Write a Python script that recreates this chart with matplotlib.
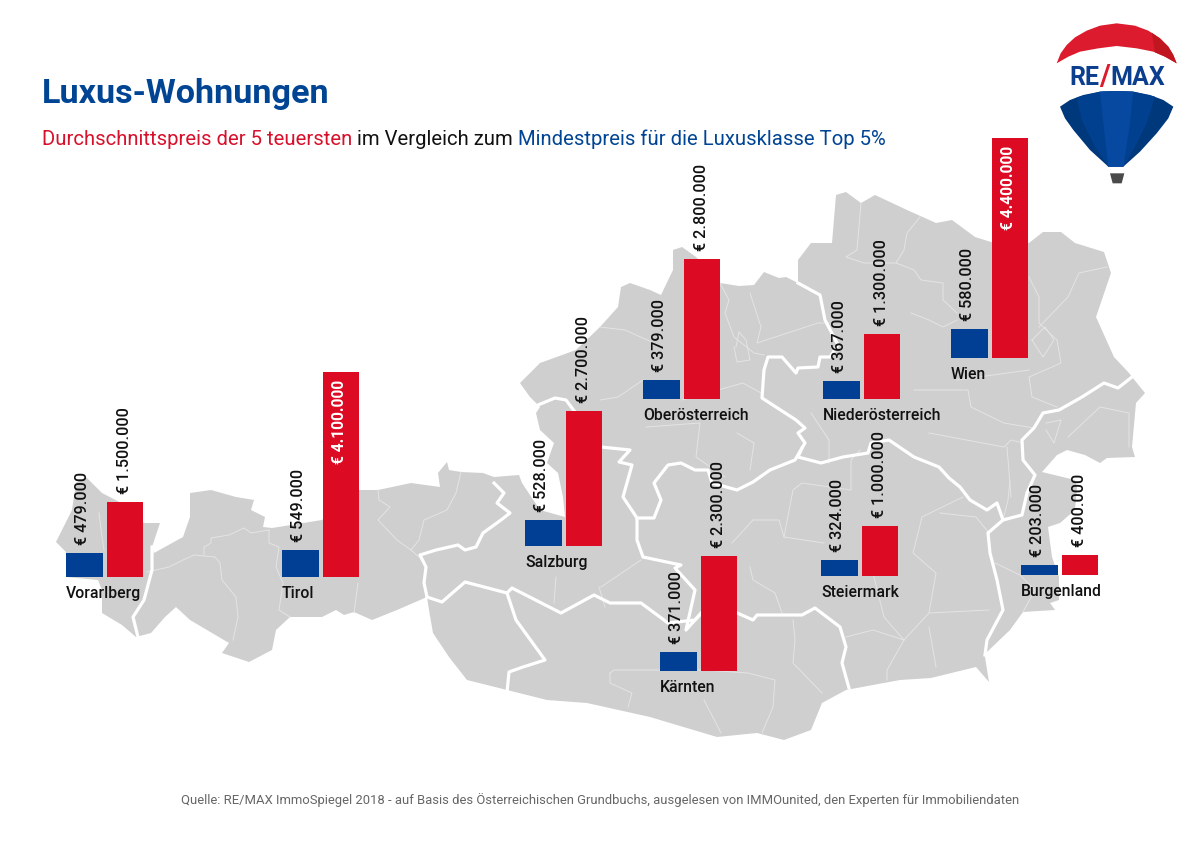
import matplotlib
matplotlib.use("Agg")
import matplotlib.pyplot as plt
from matplotlib.patches import Polygon

# ---------- data ----------
regions = ["Vorarlberg", "Tirol", "Salzburg", "Oberösterreich", "Niederösterreich",
           "Wien", "Steiermark", "Kärnten", "Burgenland"]
min_price = [479000, 549000, 528000, 379000, 367000, 580000, 324000, 371000, 203000]
avg_price = [1500000, 4100000, 2700000, 2800000, 1300000, 4400000, 1000000, 2300000, 400000]
group_x = [66, 282, 525, 643, 823, 951, 821, 660, 1021]
group_base = [577, 577, 546, 399, 399, 358, 576, 671, 575]
inside_label = ["Tirol", "Wien"]

EUR_PER_PX = 20000
BAR_W = 36.5
BAR_GAP = 40.5
RED = "#DC0A23"
BLUE = "#003F93"
TITLE_BLUE = "#004494"
GREY = "#CFCFCF"

def fmt(v):
    return "€ " + f"{v:,}".replace(",", ".")

# ---------- map geometry (background artwork, in image pixels) ----------
outline = [(56,542),(72,510),(76,483),(86,477),(102,493),(125,505),(144,523),(160,523),(152,547),
 (154,553),(183,537),(190,517),(190,493),(211,490),(236,497),(254,500),(251,510),(265,517),(263,527),
 (272,528),(322,520),(358,490),(378,490),(411,483),(440,487),(438,473),(447,462),(449,470),(461,472),
 (483,473),(494,477),(519,475),(522,483),(540,510),(565,517),(563,497),(558,473),(547,463),(554,443),
 (540,430),(536,413),(540,407),(530,397),(520,383),(540,363),(576,350),(600,327),(618,307),(621,287),
 (630,283),(650,290),(661,295),(673,270),(673,250),(682,247),(696,257),(720,283),(739,286),(754,285),
 (764,272),(779,278),(786,277),(798,283),(798,260),(811,243),(832,243),(836,195),(846,192),(861,203),
 (875,195),(907,210),(936,223),(952,220),(975,237),(991,242),(1029,243),(1043,232),(1061,232),(1075,243),
 (1104,252),(1111,273),(1096,317),(1114,357),(1129,373),(1132,377),(1145,393),(1136,403),(1132,447),
 (1135,457),(1107,458),(1100,463),(1085,455),(1067,450),(1057,455),(1042,472),(1075,480),(1077,487),
 (1075,510),(1060,523),(1048,527),(1052,557),(1059,577),(1059,600),(1050,603),(1055,610),(1023,612),
 (1010,630),(987,652),(985,657),(989,682),(976,667),(931,678),(900,680),(846,690),
 (822,703),(811,730),(784,740),(757,733),(717,737),(650,717),(587,703),(547,700),(507,690),(467,680),
 (449,657),(433,633),(429,610),(427,597),(397,610),(372,620),(354,612),(344,615),(336,610),(322,617),
 (290,617),(276,630),(272,650),(249,662),(222,653),(229,643),(190,620),(176,607),(165,617),(151,633),
 (136,637),(122,625),(102,613),(102,590),(98,580),(66,577),(66,552)]

state_borders = [
 [(152,547),(152,570),(144,600),(133,617),(138,637)],
 [(494,483),(504,493),(497,503),(510,513),(501,520),(483,533),(476,547),(465,550),(458,545),(436,550),
  (420,555),(426,567),(424,583),(427,597)],
 [(427,597),(442,602),(465,582),(507,593),(512,588),(561,613),(594,595),(610,603),(641,603),(668,623),
  (695,620),(704,610),(735,612),(753,620),(757,615),(802,615),(815,608),(840,627),(846,647),(842,663),(849,688)],
 [(507,593),(516,620),(545,660),(523,667),(509,672),(507,692)],
 [(538,405),(555,398),(566,400),(601,447),(630,450),(619,462),(632,465),(623,497),(637,518),(637,540),
  (643,557),(681,565),(675,568),(695,590),(686,630),(704,610)],
 [(637,518),(654,518),(661,500),(654,483),(668,465),(681,463),(695,470),(708,470),(712,483),(737,490),
  (753,482),(770,470),(795,460),(802,448),(805,443),(798,433),(805,428),(796,420),(762,398),(764,370),
  (768,357),(782,357),(796,373),(798,368),(818,367),(820,357),(830,357),(838,345),(825,320),(820,295),(798,283)],
 [(802,448),(798,457),(821,463),(843,457),(868,453),(871,443),(889,440),(914,457),(939,467),(949,478),
  (960,487),(970,500),(987,510),(997,503),(1003,520),(988,533),(990,553),(997,580),(1003,610),(987,640),(985,655)],
 [(1003,520),(1022,515),(1027,493),(1035,475),(1023,460),(1022,440),(1034,428),(1043,413),(1059,410),(1082,397),
  (1104,383),(1118,388),(1132,377)],
]

district_lines = [
 [(99,513),(102,537),(104,550)],
 [(147,572),(169,567),(183,560),(194,555),(215,557),(220,563),(222,580),(236,597),(238,617),(233,640)],
 [(204,555),(204,547),(211,543),(211,538),(229,535),(244,528),(251,533),(269,530)],
 [(269,530),(269,543),(279,547),(276,567),(283,583),(279,610),(290,617)],
 [(358,583),(354,613)],
 [(378,490),(379,500),(390,507),(378,520),(397,540),(411,550),(419,557)],
 [(461,472),(456,493),(447,510),(424,520),(419,540),(411,550)],
 [(556,577),(554,603)],
 [(601,587),(641,560)],
 [(599,587),(605,607)],
 [(753,520),(779,520),(784,537),(824,543)],
 [(732,543),(753,520)],
 [(750,567),(753,580),(775,593),(782,613)],
 [(784,537),(793,490),(802,483),(851,490),(851,460),(860,450)],
 [(873,573),(884,617),(904,640),(887,670),(887,680)],
 [(904,640),(929,613),(989,610)],
 [(929,613),(936,573),(913,553),(922,517),(963,497)],
 [(940,513),(976,517),(989,533)],
 [(846,637),(873,630),(904,640)],
 [(929,627),(936,667)],
 [(793,620),(795,640),(793,663),(822,693)],
 [(610,673),(614,670),(704,670),(748,673),(775,680),(773,707),(762,733)],
 [(610,673),(610,683),(632,693),(628,707)],
 [(704,700),(721,733)],
 [(600,327),(625,330),(654,343)],
 [(720,283),(729,300),(725,313),(734,337),(754,353),(764,355)],
 [(750,293),(761,327),(757,343),(818,323),(829,323)],
 [(736,347),(739,332),(746,340),(750,360),(737,362),(734,347)],
 [(600,400),(618,397),(643,380)],
 [(682,400),(743,383),(761,393)],
 [(646,427),(700,423),(696,457),(725,477)],
 [(737,433),(754,443),(750,470)],
 [(920,217),(907,233),(904,250),(896,263),(914,270),(921,280),(943,283),(943,300),(957,313)],
 [(861,203),(857,250),(846,257),(864,263),(896,263)],
 [(911,313),(929,320),(943,327),(957,320)],
 [(1029,277),(1039,297),(1039,323),(1057,340),(1061,363),(1029,377),(1032,397),(1057,407)],
 [(1107,267),(1079,273),(1068,297),(1039,327)],
 [(1032,340),(1045,327),(1054,340),(1043,357),(1032,340)],
 [(914,390),(968,390),(971,407),(1004,423),(1034,428)],
 [(929,433),(1004,447),(1011,440),(1023,443)],
 [(1007,447),(1011,497)],
 [(811,413),(829,440),(829,463)],
 [(957,380),(1029,370)],
 [(1046,423),(1061,420),(1054,443),(1046,430)],
 [(1068,437),(1100,407),(1129,413),(1129,447)],
 [(995,563),(1020,575),(1035,590),(1023,612)],
 [(1010,480),(1008,500),(1003,520)],
]

# ---------- figure ----------
plt.rcParams["font.family"] = ["Roboto", "DejaVu Sans"]
fig = plt.figure(figsize=(12, 8.5), dpi=100, facecolor="white")
ax = fig.add_axes([0, 0, 1, 1])
ax.set_xlim(0, 1200)
ax.set_ylim(850, 0)
ax.axis("off")

ax.add_patch(Polygon(outline, closed=True, fc=GREY, ec="none", zorder=1))
for line in district_lines:
    xs, ys = zip(*line)
    ax.plot(xs, ys, color="#E4E4E4", lw=0.7, zorder=2, solid_joinstyle="round")
for line in state_borders:
    xs, ys = zip(*line)
    ax.plot(xs, ys, color="white", lw=2.3, zorder=3, solid_joinstyle="round")

# ---------- bars ----------
for name, lo, hi, x0, base in zip(regions, min_price, avg_price, group_x, group_base):
    h_lo = lo / EUR_PER_PX
    h_hi = hi / EUR_PER_PX
    ax.bar(x0, h_lo, BAR_W, bottom=base - h_lo, align="edge", color=BLUE, zorder=4)
    ax.bar(x0 + BAR_GAP, h_hi, BAR_W, bottom=base - h_hi, align="edge", color=RED, zorder=4)
    ax.text(x0 + BAR_W / 2 - 2, base - h_lo - 8, fmt(lo), rotation=90, ha="center", va="bottom",
            fontsize=11.6, fontweight="medium", color="#111111", zorder=5)
    if name in inside_label:
        ax.text(x0 + BAR_GAP + BAR_W / 2 - 1, base - h_hi + 8, fmt(hi), rotation=90, ha="center", va="top",
                fontsize=11.2, fontweight="bold", color="white", zorder=5)
    else:
        ax.text(x0 + BAR_GAP + BAR_W / 2, base - h_hi - 8, fmt(hi), rotation=90, ha="center", va="bottom",
                fontsize=11.6, fontweight="medium", color="#111111", zorder=5)
    ax.text(x0, base + 21, name, ha="left", va="baseline", fontsize=11.3, fontweight="medium",
            color="#111111", zorder=5)

# ---------- titles ----------
ax.text(42, 103, "Luxus-Wohnungen", fontsize=24.6, fontweight="bold", color=TITLE_BLUE,
        ha="left", va="baseline", zorder=6)

x = 42.0
renderer = fig.canvas.get_renderer()
for piece, col in [("Durchschnittspreis der 5 teuersten", "#D7102B"),
                   (" im Vergleich zum ", "#111111"),
                   ("Mindestpreis für die Luxusklasse Top 5%", TITLE_BLUE)]:
    ax.text(x, 145, piece, fontsize=14.58, color=col, ha="left", va="baseline", zorder=6)
    tw, _, _ = renderer.get_text_width_height_descent(piece, ax.texts[-1].get_fontproperties(), False)
    x += tw

ax.text(600, 804, "Quelle: RE/MAX ImmoSpiegel 2018 - auf Basis des Österreichischen Grundbuchs, "
        "ausgelesen von IMMOunited, den Experten für Immobiliendaten",
        fontsize=9.33, color="#666666", ha="center", va="baseline", zorder=6)

# ---------- RE/MAX balloon artwork ----------
def lg(pts):
    return [(1040 + a / 3, 10 + b / 3) for a, b in pts]

red_top = [(50,160),(62,130),(80,105),(105,82),(140,62),(180,47),(230,40),(285,47),(325,62),(360,85),
           (385,110),(400,135),(410,160),(375,140),(340,125),(290,115),(230,108),(175,115),(120,125),(85,140)]
red_side = [(335,68),(360,85),(385,110),(400,135),(410,160),(375,140),(345,127)]
blue_body = [(60,290),(90,270),(130,255),(180,245),(230,243),(280,245),(330,255),(370,270),(400,290),
             (385,325),(350,370),(300,425),(250,470),(205,470),(150,420),(100,360),(75,325)]
blue_mid = [(110,262),(180,245),(230,243),(280,245),(345,260),(320,340),(280,420),(250,470),(205,470),(165,410),(125,330)]
blue_core = [(180,245),(230,243),(280,245),(270,340),(250,470),(205,470),(190,340)]
ax.add_patch(Polygon(lg(red_top), fc="#DC1C2E", ec="none", zorder=6))
ax.add_patch(Polygon(lg(red_side), fc="#C0161F", ec="none", zorder=6))
ax.add_patch(Polygon(lg(blue_body), fc="#00387C", ec="none", zorder=6))
ax.add_patch(Polygon(lg(blue_mid), fc="#00408F", ec="none", zorder=6))
ax.add_patch(Polygon(lg(blue_core), fc="#0749A0", ec="none", zorder=6))
ax.add_patch(Polygon(lg([(210,490),(253,490),(245,520),(218,520)]), fc="#4A4A4A", ec="none", zorder=6))
ax.text(1084, 85, "RE", fontsize=18, fontweight="bold", color="#0B3F8E", ha="center", va="baseline", zorder=7)
ax.text(1105, 85, "/", fontsize=21, fontweight="bold", color="#DC1C2E", ha="center", va="baseline", zorder=7)
ax.text(1138, 85, "MAX", fontsize=18, fontweight="bold", color="#0B3F8E", ha="center", va="baseline", zorder=7)

fig.savefig("out.png", dpi=100, facecolor="white")
